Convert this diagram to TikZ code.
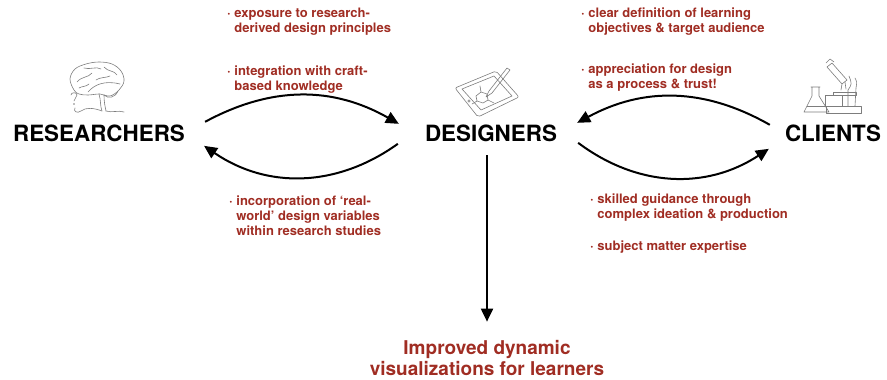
\documentclass[tikz,border=0pt]{standalone}
\usepackage{fontspec}
\setmainfont{TeX Gyre Heros}
\usepackage{tikz}
\usetikzlibrary{arrows.meta,positioning}
\definecolor{vizred}{RGB}{160,45,35}
\definecolor{inkgray}{RGB}{125,125,125}
\newcommand{\dotitem}{\textperiodcentered\ }
\newcommand{\dotpad}{\phantom{\textperiodcentered\ }}

\begin{document}
\begin{tikzpicture}[
  x=1pt,y=-1pt,
  actor/.style={font=\bfseries\fontsize{22.4}{26}\selectfont,inner sep=0pt,anchor=base},
  note/.style={font=\bfseries\fontsize{13}{15}\selectfont,text=vizred,
               align=left,inner sep=0pt,anchor=base west},
  goalbox/.style={font=\bfseries\fontsize{19}{21}\selectfont,text=vizred,
                  align=center,inner sep=0pt,anchor=base},
  flow/.style={line width=2pt,-{Triangle[length=13pt,width=12pt]}},
  sketch/.style={draw=inkgray,line width=0.6pt,line join=round,line cap=round}
]
\useasboundingbox (0,0) rectangle (887,380);

% Actors
\node[actor] (res) at (99,141) {RESEARCHERS};
\node[actor] (des) at (491,141) {DESIGNERS};
\node[actor] (cli) at (833,141) {CLIENTS};

% What each side brings (placed by the baseline of the last line)
\node[note] (expo)  at (227,32)  {\dotitem exposure to research-\\\dotpad derived design principles};
\node[note] (craft) at (227,90)  {\dotitem integration with craft-\\\dotpad based knowledge};
\node[note] (real)  at (229,235) {\dotitem incorporation of `real-\\\dotpad world' design variables\\\dotpad within research studies};
\node[note] (obj)   at (581,32)  {\dotitem clear definition of learning\\\dotpad objectives \& target audience};
\node[note] (trust) at (581,88)  {\dotitem appreciation for design\\\dotpad as a process \& trust!};
\node[note] (guide) at (590,218) {\dotitem skilled guidance through\\\dotpad complex ideation \& production};
\node[note] (subj)  at (590,250) {\dotitem subject matter expertise};

% Outcome
\node[goalbox] (goal) at (487,375) {Improved dynamic\\visualizations for learners};

% Arrows
\draw[flow] ([shift={(20,-11)}]res.east) to[bend left=29] ([shift={(-26,-9)}]des.west);
\draw[flow] ([shift={(-27,11)}]des.west) to[bend left=35] ([shift={(19,13)}]res.east);
\draw[flow] ([shift={(-15,-8)}]cli.west) to[bend right=29] ([shift={(20,-10)}]des.east);
\draw[flow] ([shift={(21,10)}]des.east) to[bend right=35] ([shift={(-16,16)}]cli.west);
\draw[flow] ([shift={(-4,14)}]des.south) -- ([shift={(0,-18)}]goal.north);

% Brain
\draw[sketch] plot[smooth cycle,tension=0.6] coordinates {(74,90) (70,79) (75,69) (86,64)
  (99,62) (112,64) (121,71) (124,81) (119,90) (110,96) (100,94) (88,95) (79,94)};
\draw[sketch] (77,82) .. controls (82,76) and (88,78) .. (92,73);
\draw[sketch] (84,68) .. controls (90,70) and (96,66) .. (101,69);
\draw[sketch] (104,67) .. controls (108,72) and (114,70) .. (117,75);
\draw[sketch] (88,92) .. controls (94,85) and (104,80) .. (120,84);
\draw[sketch] (96,80) .. controls (100,77) and (106,78) .. (110,76);
\draw[sketch] (79,88) .. controls (82,86) and (86,87) .. (89,84);
\draw[sketch] (104,95) .. controls (108,99) and (115,98) .. (118,91);
\draw[sketch] (99,94) .. controls (101,100) and (100,106) .. (102,111);
\draw[sketch] (104,95) .. controls (104,102) and (105,106) .. (106,111);
\draw[sketch] (106,111) .. controls (112,113) and (118,110) .. (124,112);
\draw[sketch] (102,111) .. controls (94,108) and (86,107) .. (81,111)
  .. controls (77,114) and (73,111) .. (75,108);
\draw[sketch] (71,95) .. controls (71,92) and (77,92) .. (77,95)
  .. controls (77,98) and (74,98) .. (74,101);
\fill[inkgray] (74,104) circle (0.8);

% Tablet and stylus
\draw[sketch,rounded corners=2pt] (455,88) -- (496,71) -- (519,97) -- (478,117) -- cycle;
\draw[sketch] (462,89) -- (494,76) -- (512,96) -- (481,110) -- cycle;
\draw[sketch] (469,101) circle (1.2);
\draw[sketch] (476,96) -- (481,92) -- (487,94) -- (488,100) -- (483,103) -- (477,101) -- cycle;
\draw[sketch] (481,92) -- (480,86) (488,100) -- (494,103) (477,101) -- (472,104);
\draw[sketch] (486,97) -- (489,91) -- (507,68) -- (510,70) -- (492,93) -- cycle;

% Flask
\draw[sketch] (811,87) -- (820,87) (812,87) -- (812,96) -- (804,112) -- (829,112)
  -- (819,96) -- (819,87);
\draw[sketch] (807,106) -- (826,106);

% Microscope
\draw[sketch] (826,106) rectangle (861,113);
\draw[sketch] (825,95) rectangle (842,106);
\draw[sketch] (848,106) -- (848,90) .. controls (852,84) .. (849,76);
\draw[sketch] (855,106) -- (856,88) .. controls (857,82) .. (855,78);
\draw[sketch] (827,67) -- (832,63) -- (847,80) -- (842,84) -- cycle;
\draw[sketch] (826,63) -- (830,59) -- (834,62);
\draw[sketch] (842,84) -- (841,90) (845,82) -- (846,89);
\draw[sketch] (833,92) rectangle (856,95);
\end{tikzpicture}
\end{document}
